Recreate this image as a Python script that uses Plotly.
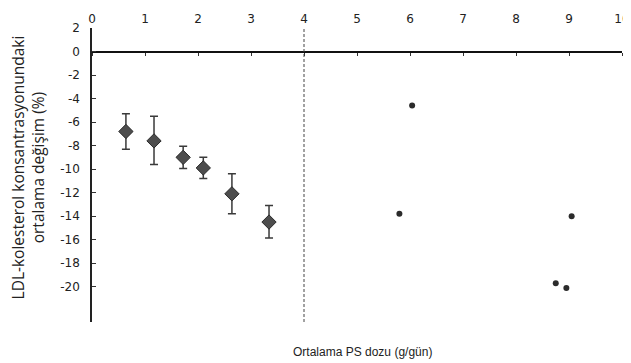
import plotly.graph_objects as go

# Grouped studies (mean dose, mean LDL change, error bar up / down)
grp_dose = [0.64, 1.17, 1.72, 2.10, 2.64, 3.34]
grp_change = [-6.8, -7.6, -9.0, -9.9, -12.1, -14.5]
grp_err_up = [1.5, 2.1, 0.95, 0.9, 1.7, 1.4]
grp_err_down = [1.5, 2.0, 0.95, 0.9, 1.7, 1.35]

# Individual high-dose studies
hi_dose = [6.04, 5.80, 9.05, 8.75, 8.95]
hi_change = [-4.6, -13.8, -14.0, -19.7, -20.1]

x_ticks = list(range(0, 11))
y_ticks = list(range(-20, 3, 2))
y_tick_text = [str(v) for v in y_ticks]  # plain hyphen minus, as in the source
x_range = [0, 10]
y_range = [-23, 2]
cutoff_dose = 4

fig = go.Figure()

fig.add_trace(go.Scatter(
    x=grp_dose, y=grp_change, mode="markers",
    marker=dict(symbol="diamond", size=11, color="#4d4d4d",
                line=dict(color="#2a2a2a", width=1)),
    error_y=dict(type="data", symmetric=False, array=grp_err_up,
                 arrayminus=grp_err_down, color="#3a3a3a",
                 thickness=1.5, width=4),
    showlegend=False, cliponaxis=False,
))

fig.add_trace(go.Scatter(
    x=hi_dose, y=hi_change, mode="markers",
    marker=dict(symbol="circle", size=6, color="#2b2b2b"),
    showlegend=False,
))

# dummy trace for the zero-line axis
fig.add_trace(go.Scatter(x=[None], y=[None], xaxis="x2", showlegend=False))

fig.add_shape(type="line", xref="x", yref="y", x0=cutoff_dose, x1=cutoff_dose,
              y0=y_range[0], y1=y_range[1],
              line=dict(color="#444", width=1, dash="3px,2px"))

tick_font = dict(family="DejaVu Sans", size=12, color="#222")

# the page body has an 8px margin, so the figure is sized/offset to compensate
fig.update_layout(
    width=623, height=355,
    margin=dict(l=84, r=9, t=20, b=41, autoexpand=False),
    plot_bgcolor="white", paper_bgcolor="white",
    xaxis=dict(range=x_range, side="top", tickvals=x_ticks,
               showline=False, showgrid=False, zeroline=False,
               ticks="", tickfont=tick_font, ticklabelstandoff=2,
               ticklabeloverflow="allow", automargin=False),
    xaxis2=dict(range=x_range, overlaying="x", anchor="free",
                position=(0 - y_range[0]) / (y_range[1] - y_range[0]),
                side="bottom", tickvals=x_ticks, showticklabels=False,
                showline=True, linecolor="#111", linewidth=2,
                ticks="outside", ticklen=3, tickcolor="#333",
                showgrid=False, zeroline=False, automargin=False),
    yaxis=dict(range=y_range, tickvals=y_ticks, ticktext=y_tick_text,
               showline=True, linecolor="#222", linewidth=1.5,
               ticks="inside", ticklen=4, tickcolor="#333",
               showgrid=False, zeroline=False, automargin=False,
               tickfont=tick_font, ticklabelstandoff=8),
    font=dict(family="DejaVu Sans", color="#222"),
)

fig.add_annotation(xref="paper", yref="paper", x=-0.12, y=0.527,
                   text="LDL-kolesterol konsantrasyonundaki<br>ortalama değişim (%)",
                   textangle=-90, showarrow=False,
                   font=dict(family="Open Sans", size=15.5, color="#222"),
                   xanchor="center", yanchor="middle")

fig.add_annotation(xref="paper", yref="paper", x=0.51, y=-0.102,
                   text="Ortalama PS dozu (g/gün)", showarrow=False,
                   font=dict(family="Liberation Sans", size=12, color="#222"),
                   xanchor="center", yanchor="middle")

fig.write_html("out.html")
